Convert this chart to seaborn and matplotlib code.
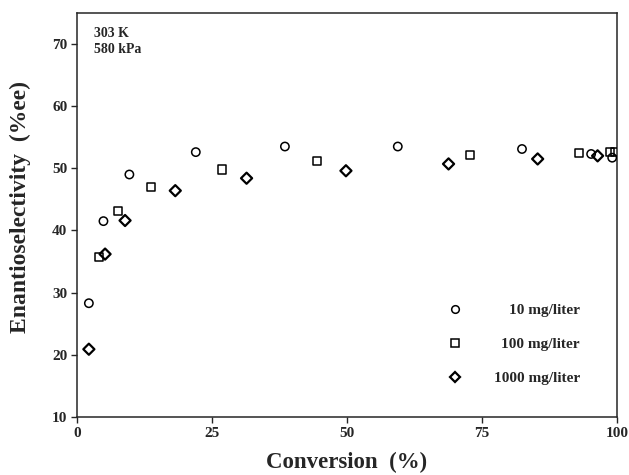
import numpy as np
import pandas as pd
import seaborn as sns
import matplotlib.pyplot as plt
from matplotlib.lines import Line2D

conv_10 = [2.2, 4.9, 9.7, 22.0, 38.5, 59.4, 82.4, 95.2, 99.1]
ee_10 = [28.3, 41.5, 49.0, 52.6, 53.5, 53.5, 53.1, 52.3, 51.7]

conv_100 = [4.1, 7.6, 13.7, 26.8, 44.5, 72.8, 92.9, 98.7, 99.6]
ee_100 = [35.7, 43.2, 47.0, 49.8, 51.2, 52.1, 52.5, 52.6, 52.6]

conv_1000 = [2.2, 5.2, 8.9, 18.2, 31.4, 49.8, 68.8, 85.3, 96.4]
ee_1000 = [20.9, 36.2, 41.6, 46.4, 48.4, 49.6, 50.7, 51.5, 52.0]

labels = ["10 mg/liter", "100 mg/liter", "1000 mg/liter"]
marks = {"10 mg/liter": "o", "100 mg/liter": "s", "1000 mg/liter": "D"}

df = pd.concat([
    pd.DataFrame({"conv": conv_10, "ee": ee_10, "conc": labels[0]}),
    pd.DataFrame({"conv": conv_100, "ee": ee_100, "conc": labels[1]}),
    pd.DataFrame({"conv": conv_1000, "ee": ee_1000, "conc": labels[2]}),
])

sns.set_style("ticks")
plt.rcParams["font.family"] = ["Liberation Serif", "DejaVu Serif"]
plt.rcParams["font.weight"] = "bold"

fig = plt.figure(figsize=(6.29, 4.75), dpi=100)
ax = fig.add_axes([0.1224, 0.1221, 0.8586, 0.8509])

sizes = {"10 mg/liter": 36, "100 mg/liter": 34, "1000 mg/liter": 32}
for lab in labels:
    sub = df[df.conc == lab]
    sns.scatterplot(data=sub, x="conv", y="ee", marker=marks[lab], s=sizes[lab],
                    facecolor="none", edgecolor="black", linewidth=1.1 if lab != labels[2] else 1.6,
                    ax=ax, legend=False, zorder=3)

ax.set_xlim(0, 100)
ax.set_ylim(10, 75)
ax.set_xticks([0, 25, 50, 75, 100])
ax.set_yticks([10, 20, 30, 40, 50, 60, 70])
ax.tick_params(direction="out", length=4, width=1, labelsize=11, pad=3)
for t in ax.get_xticklabels() + ax.get_yticklabels():
    t.set_fontweight("bold")
for s in ax.spines.values():
    s.set_linewidth(1.1)

ax.set_xlabel("Conversion  (%)", fontsize=16.5, fontweight="bold", labelpad=9)
ax.set_ylabel("Enantioselectivity  (%ee)", fontsize=17, fontweight="bold")
ax.yaxis.set_label_coords(-0.085, 0.52)

ax.text(0.032, 0.965, "303 K\n580 kPa", transform=ax.transAxes, fontsize=10,
        fontweight="bold", va="top", ha="left", linespacing=1.3)

handles = [Line2D([], [], ls="none", marker=marks[l], mfc="none", mec="black",
                  ms=5.5, mew=1.1 if l != labels[2] else 1.6) for l in labels]
leg = ax.legend(handles, labels, loc="lower right", bbox_to_anchor=(0.957, 0.045),
                frameon=False, handletextpad=1.55, labelspacing=1.32,
                prop={"size": 11, "weight": "bold"})
# right-align the legend texts
fig.canvas.draw()
renderer = fig.canvas.get_renderer()
widths = [t.get_window_extent(renderer).width for t in leg.get_texts()]
for t, w in zip(leg.get_texts(), widths):
    t.set_position((max(widths) - w, 0))

fig.savefig("out.png", dpi=100)
